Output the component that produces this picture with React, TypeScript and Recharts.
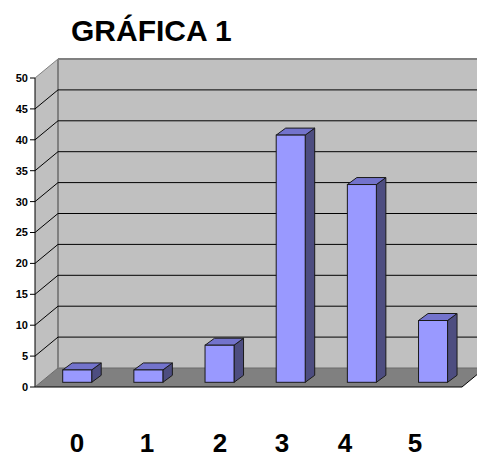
import React from "react";
import {
  BarChart,
  Bar,
  XAxis,
  YAxis,
  CartesianGrid,
  ReferenceArea,
} from "recharts";

// ---- data ----
const categories = ["0", "1", "2", "3", "4", "5"];
const values = [2, 2, 6, 40, 32, 10];
const yTicks = [0, 5, 10, 15, 20, 25, 30, 35, 40, 45, 50];
const title = "GRÁFICA 1";

const data = categories.map((c, i) => ({ name: c, value: values[i] }));

// ---- layout / style constants ----
const W = 477;
const H = 459;
const DEPTH_X = 23;
const DEPTH_Y = -19;
const BAR_SHIFT_X = 6.7;
const BAR_SHIFT_Y = -4.7;
const BAR_DEPTH_X = 9.5;
const BAR_DEPTH_Y = -7;
const LABEL_SHIFT = [6.4, 5.2, 7.1, -2.1, -10.2, -11.4];
const FONT = '"Liberation Sans", Arial, Helvetica, sans-serif';

const WallShape = (props: any) => {
  const { x, y, width, height } = props;
  const bx = x + DEPTH_X;
  const by = y + DEPTH_Y;
  const bottom = y + height;
  return (
    <g>
      <polygon
        points={`${x},${y} ${bx},${by} ${bx},${bottom + DEPTH_Y} ${x},${bottom}`}
        fill="#c0c0c0"
      />
      <rect x={bx} y={by} width={width + DEPTH_X} height={height} fill="#c0c0c0" />
      <polygon
        points={`${x},${bottom} ${bx},${bottom + DEPTH_Y} ${x + width + DEPTH_X},${bottom + DEPTH_Y} ${x + width},${bottom}`}
        fill="#808080"
      />
      <line x1={bx} y1={bottom + DEPTH_Y} x2={x + width + DEPTH_X} y2={bottom + DEPTH_Y} stroke="#6a6a6a" strokeWidth={1} />
      <line x1={x} y1={bottom} x2={x + width} y2={bottom} stroke="#000" strokeWidth={1} />
      <line x1={x + width} y1={bottom} x2={x + width + DEPTH_X} y2={bottom + DEPTH_Y} stroke="#000" strokeWidth={1} />
      <line x1={x} y1={bottom} x2={bx} y2={bottom + DEPTH_Y} stroke="#6a6a6a" strokeWidth={1} />
      <line x1={bx} y1={by} x2={bx} y2={bottom + DEPTH_Y} stroke="#808080" strokeWidth={2} />
    </g>
  );
};

const GridLine = (props: any) => {
  const { x1, y1, x2, y, height } = props;
  const isBottom = typeof y === "number" && typeof height === "number" && Math.abs(y1 - (y + height)) < 1;
  const isTop = typeof y === "number" && Math.abs(y1 - y) < 1;
  if (isBottom) return <g />;
  const color = isTop ? "#808080" : "#000";
  const sw = isTop ? 2 : 1;
  return (
    <g>
      <line x1={x1} y1={y1} x2={x1 + DEPTH_X} y2={y1 + DEPTH_Y} stroke={isTop ? "#808080" : "#000"} strokeWidth={1} />
      <line x1={x1 + DEPTH_X} y1={y1 + DEPTH_Y} x2={x2 + DEPTH_X} y2={y1 + DEPTH_Y} stroke={color} strokeWidth={sw} />
    </g>
  );
};

const Bar3D = (props: any) => {
  const { x, y, width, height } = props;
  if (width == null || height == null) return <g />;
  const fx = x + BAR_SHIFT_X;
  const fy = y + BAR_SHIFT_Y;
  const w = width;
  const h = height;
  const stroke = "#1a1a1a";
  return (
    <g>
      <polygon
        points={`${fx + w},${fy} ${fx + w + BAR_DEPTH_X},${fy + BAR_DEPTH_Y} ${fx + w + BAR_DEPTH_X},${fy + h + BAR_DEPTH_Y} ${fx + w},${fy + h}`}
        fill="#4d4d80"
        stroke={stroke}
        strokeWidth={1}
        strokeLinejoin="round"
      />
      <polygon
        points={`${fx},${fy} ${fx + BAR_DEPTH_X},${fy + BAR_DEPTH_Y} ${fx + w + BAR_DEPTH_X},${fy + BAR_DEPTH_Y} ${fx + w},${fy}`}
        fill="#7373cc"
        stroke={stroke}
        strokeWidth={1}
        strokeLinejoin="round"
      />
      <rect x={fx} y={fy} width={w} height={h} fill="#9999ff" stroke={stroke} strokeWidth={1} />
    </g>
  );
};

const XTick = (props: any) => {
  const { x, y, payload, index } = props;
  const shift = LABEL_SHIFT[index] ?? 0;
  return (
    <text
      x={x + shift}
      y={y + 65}
      textAnchor="middle"
      fontFamily={FONT}
      fontWeight="bold"
      fontSize={26}
      fill="#000"
    >
      {payload.value}
    </text>
  );
};

export default function App() {
  return (
    <div style={{ position: "absolute", left: 0, top: 0, width: W, height: H, background: "#fff" }}>
      <div
        style={{
          position: "absolute",
          left: 71,
          top: 16,
          fontFamily: FONT,
          fontWeight: "bold",
          fontSize: 30,
          lineHeight: "30px",
          color: "#000",
          whiteSpace: "nowrap",
          zIndex: 2,
        }}
      >
        {title}
      </div>
      <BarChart
        width={W}
        height={H}
        data={data}
        margin={{ top: 78, right: 15, bottom: 0, left: 0 }}
        barSize={29}
      >
        <ReferenceArea y1={0} y2={50} shape={WallShape} ifOverflow="visible" zIndex={-200} />
        <CartesianGrid vertical={false} horizontal={GridLine} stroke="#000" zIndex={-100} />
        <XAxis
          dataKey="name"
          height={72}
          axisLine={false}
          tickLine={false}
          tickSize={0}
          tickMargin={0}
          interval={0}
          tick={XTick}
        />
        <YAxis
          width={35}
          domain={[0, 50]}
          ticks={yTicks}
          interval={0}
          allowDataOverflow
          axisLine={{ stroke: "#000", strokeWidth: 1 }}
          tickLine={{ stroke: "#000", strokeWidth: 1 }}
          tickSize={5}
          tickMargin={2}
          tick={{ fill: "#000", fontSize: 11, fontWeight: "bold", fontFamily: FONT }}
        />
        <Bar dataKey="value" isAnimationActive={false} shape={Bar3D} />
      </BarChart>
    </div>
  );
}
